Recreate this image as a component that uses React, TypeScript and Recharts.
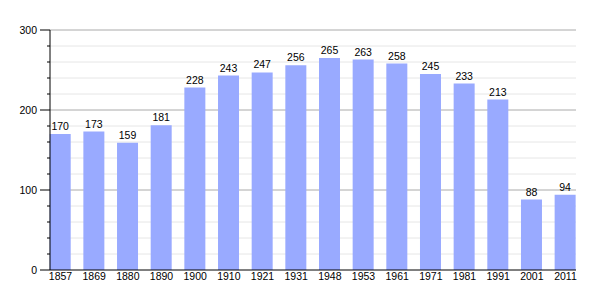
import { Bar, BarChart, CartesianGrid, LabelList, XAxis, YAxis } from "recharts"

const years = ["1857", "1869", "1880", "1890", "1900", "1910", "1921", "1931", "1948", "1953", "1961", "1971", "1981", "1991", "2001", "2011"]
const population = [170, 173, 159, 181, 228, 243, 247, 256, 265, 263, 258, 245, 233, 213, 88, 94]
const yTicks = [0, 20, 40, 60, 80, 100, 120, 140, 160, 180, 200, 220, 240, 260, 280, 300]
const majorTicks = [100, 200, 300]
const minorTicks = [20, 40, 60, 80, 120, 140, 160, 180, 220, 240, 260, 280]

const data = years.map((year, i) => ({ year, value: population[i] }))

const font = "'Liberation Sans', Arial, sans-serif"
const fs = 10.5

function YTick(props: any) {
    const { x, y, payload } = props
    const major = payload.value % 100 === 0
    return (
        <g>
            <line x1={x} x2={x - (major ? 10 : 3)} y1={y} y2={y} stroke="#000" />
            {major && (
                <text x={x - 13} y={y} dy={4} textAnchor="end" fontSize={fs} fontFamily={font} fill="#000">
                    {payload.value}
                </text>
            )}
        </g>
    )
}

export default function App() {
    return (
        <div style={{ position: "absolute", left: 0, top: 0, background: "#fff" }}>
            <BarChart width={605} height={300} data={data} margin={{ top: 30, right: 29, bottom: 0, left: 0 }}>
                <CartesianGrid vertical={false} horizontalValues={minorTicks} stroke="#e6e6e6" />
                <CartesianGrid vertical={false} horizontalValues={majorTicks} stroke="#aaaaaa" />
                <XAxis
                    dataKey="year"
                    height={30}
                    padding={{ left: -6.3, right: -6.3 }}
                    tickLine={false}
                    tickSize={0}
                    tickMargin={3}
                    axisLine={{ stroke: "#000" }}
                    tick={{ fontSize: fs, fontFamily: font, fill: "#000" }}
                    interval={0}
                />
                <YAxis
                    width={50}
                    domain={[0, 300]}
                    ticks={yTicks}
                    interval={0}
                    tickLine={false}
                    tickSize={0}
                    tickMargin={0}
                    axisLine={{ stroke: "#000" }}
                    tick={<YTick />}
                />
                <Bar dataKey="value" fill="#99aaff" barSize={21} isAnimationActive={false}>
                    <LabelList dataKey="value" position="top" offset={4} fontSize={fs} fontFamily={font} fill="#000" />
                </Bar>
            </BarChart>
        </div>
    )
}
